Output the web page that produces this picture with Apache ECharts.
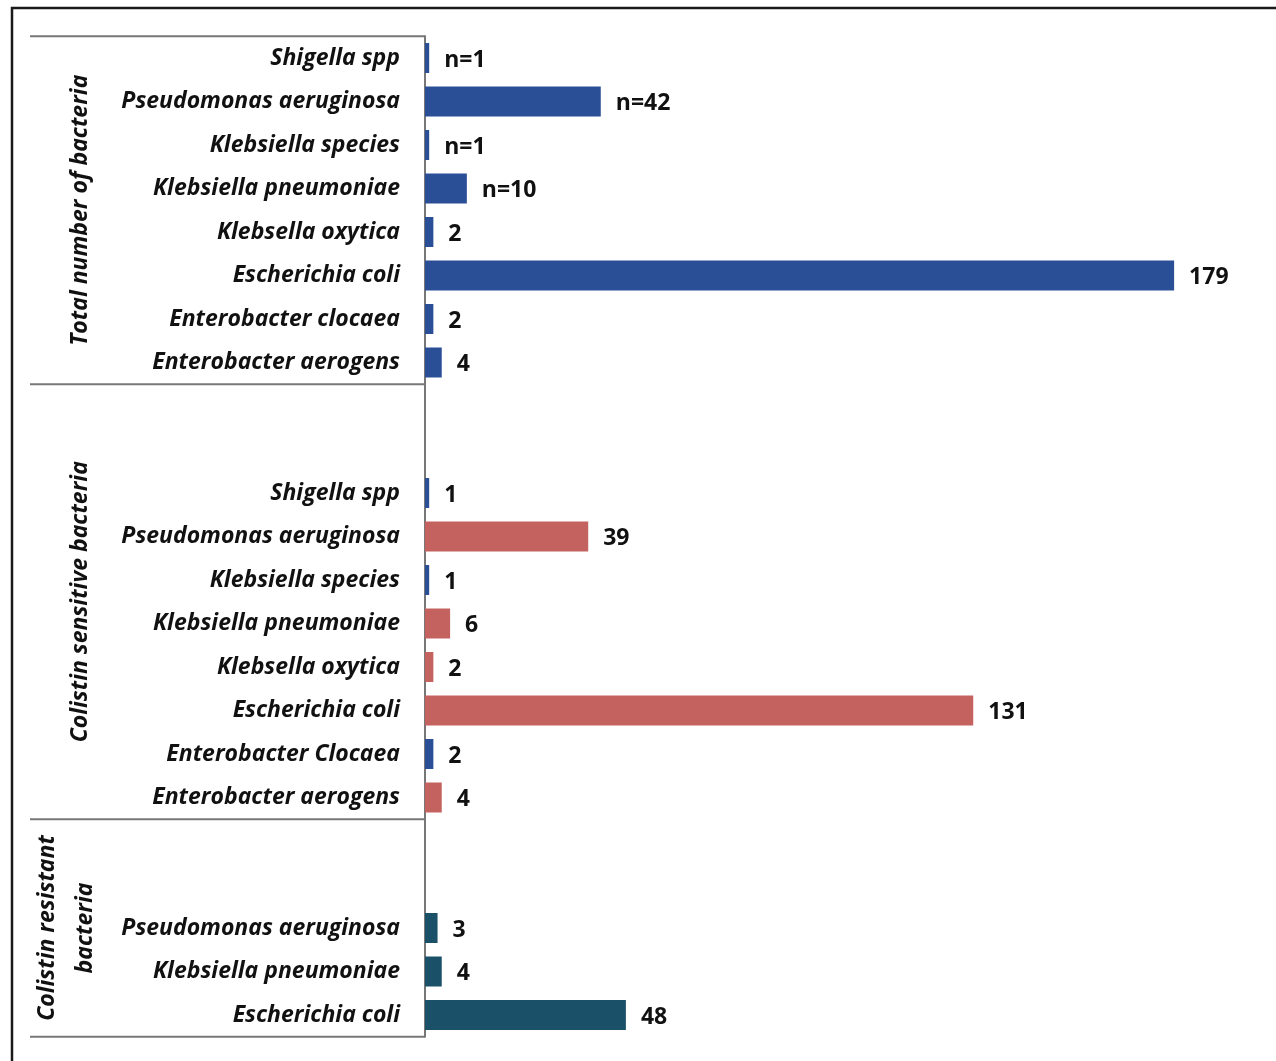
<!DOCTYPE html>
<html>
<head>
<meta charset="utf-8">
<script src="https://cdn.jsdelivr.net/npm/echarts@6/dist/echarts.min.js"></script>
<style>
  html, body { margin: 0; padding: 0; background: #fff; }
  #chart { width: 1276px; height: 1061px; }
</style>
</head>
<body>
<div id="chart"></div>
<script>
// rows top to bottom; '' rows are the gaps between groups
const categories = [
  'Shigella spp', 'Pseudomonas aeruginosa', 'Klebsiella species', 'Klebsiella pneumoniae',
  'Klebsella oxytica', 'Escherichia coli', 'Enterobacter clocaea', 'Enterobacter aerogens',
  '', '',
  'Shigella spp', 'Pseudomonas aeruginosa', 'Klebsiella species', 'Klebsiella pneumoniae',
  'Klebsella oxytica', 'Escherichia coli', 'Enterobacter Clocaea', 'Enterobacter aerogens',
  '', '',
  'Pseudomonas aeruginosa', 'Klebsiella pneumoniae', 'Escherichia coli'
];
const values = [
  1, 42, 1, 10, 2, 179, 2, 4,
  null, null,
  1, 39, 1, 6, 2, 131, 2, 4,
  null, null,
  3, 4, 48
];
const valueLabels = [
  'n=1', 'n=42', 'n=1', 'n=10', '2', '179', '2', '4',
  '', '',
  '1', '39', '1', '6', '2', '131', '2', '4',
  '', '',
  '3', '4', '48'
];
// b = blue, r = red, t = teal
const barKinds = [
  'b', 'b', 'b', 'b', 'b', 'b', 'b', 'b',
  '', '',
  'b', 'r', 'b', 'r', 'r', 'r', 'b', 'r',
  '', '',
  't', 't', 't'
];
const groupNames = ['Total number of bacteria', 'Colistin sensitive bacteria', 'Colistin resistant\nbacteria'];
const groupRows = [[0, 7], [8, 17], [18, 22]];

const kindColor = { b: '#2A4F96', r: '#C46260', t: '#1B5069' };
const labelFont = '"Open Sans", "Noto Sans", sans-serif';

const chart = echarts.init(document.getElementById('chart'));

const option = {
  animation: false,
  grid: { left: 425, top: 36.25, width: 837, height: 1000.5 },
  xAxis: {
    type: 'value', min: 0, max: 200,
    show: false
  },
  yAxis: {
    type: 'category',
    inverse: true,
    data: categories.map((c, i) => ({ value: 'r' + i })),
    axisLine: { show: true, lineStyle: { color: '#777', width: 2 } },
    axisTick: { show: false },
    axisLabel: {
      margin: 25,
      padding: [5, 0, 0, 0],
      fontFamily: labelFont, fontWeight: 'bold', fontStyle: 'italic',
      fontSize: 23, color: '#111',
      formatter: (v) => categories[+v.slice(1)]
    }
  },
  series: [{
    type: 'bar',
    barWidth: 30,
    data: values.map((v, i) => ({
      value: v,
      itemStyle: { color: kindColor[barKinds[i]] || '#000' }
    })),
    label: {
      show: true, position: 'right', distance: 15, offset: [0, 2],
      fontFamily: labelFont, fontWeight: 'bold', fontSize: 23, color: '#111',
      formatter: (p) => valueLabels[p.dataIndex]
    }
  }]
};
chart.setOption(option);

// group separators and rotated group titles, placed from the axis scale
const band = chart.convertToPixel({ yAxisIndex: 0 }, 'r1') - chart.convertToPixel({ yAxisIndex: 0 }, 'r0');
const axisX = chart.convertToPixel({ xAxisIndex: 0 }, 0);
const graphics = [{
  type: 'rect', silent: true,
  shape: { x: 12, y: 8, width: 1300, height: 1100 },
  style: { fill: null, stroke: '#1a1a1a', lineWidth: 2.5 }
}];
groupRows.forEach((g, k) => {
  const y0 = chart.convertToPixel({ yAxisIndex: 0 }, 'r' + g[0]) - band / 2;
  const y1 = chart.convertToPixel({ yAxisIndex: 0 }, 'r' + g[1]) + band / 2;
  if (k === 0) {
    graphics.push({ type: 'line', silent: true, shape: { x1: 30, y1: y0, x2: axisX, y2: y0 }, style: { stroke: '#777', lineWidth: 2 } });
  }
  graphics.push({ type: 'line', silent: true, shape: { x1: 30, y1: y1, x2: axisX, y2: y1 }, style: { stroke: '#777', lineWidth: 2 } });
  graphics.push({
    type: 'text', silent: true,
    x: k === 2 ? 66 : 80, y: (y0 + y1) / 2, rotation: Math.PI / 2,
    style: {
      text: groupNames[k], align: 'center', verticalAlign: 'middle',
      font: 'italic bold 23px ' + labelFont, fill: '#111', lineHeight: 38
    }
  });
});
chart.setOption({ graphic: graphics });
</script>
</body>
</html>
